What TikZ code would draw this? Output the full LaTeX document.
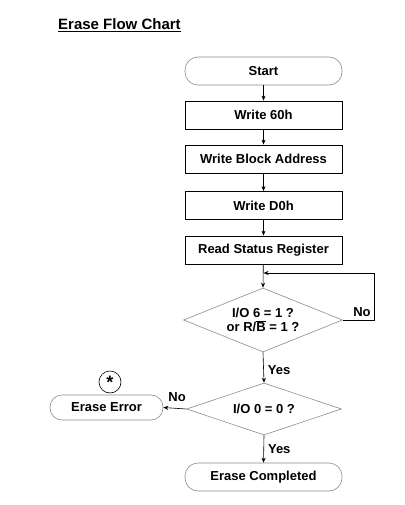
\documentclass[tikz,border=0pt]{standalone}
\usepackage{fontspec}
\setmainfont{Liberation Sans}
\usetikzlibrary{shapes.geometric,arrows.meta}
\begin{document}
\begin{tikzpicture}[x=1pt,y=-1pt,
  every node/.style={font=\bfseries\fontsize{13}{15}\selectfont},
  procbox/.style={draw=black,line width=0.8pt,rectangle,minimum width=157pt,minimum height=28pt,inner sep=0pt},
  termbox/.style={draw=black!45,line width=0.6pt,rectangle,rounded corners=13pt,minimum width=157pt,minimum height=28pt,inner sep=0pt},
  decide/.style={draw=black!45,line width=0.6pt,diamond,aspect=2.5,inner sep=0pt,align=center},
  conn/.style={draw=black,line width=0.6pt,-{Stealth[length=5pt,width=4pt]}},
  lbl/.style={inner sep=0pt}]
\useasboundingbox (0,0) rectangle (404,505);
\node[inner sep=0pt,anchor=west,font=\bfseries\fontsize{15}{17}\selectfont] (title) at (58,25) {\underline{Erase Flow Chart}};
\node[termbox] (start) at (263.5,71) {Start};
\node[procbox] (w60) at (263.5,115) {Write 60h};
\node[procbox] (wba) at (263.5,159) {Write Block Address};
\node[procbox] (wd0) at (263.5,205.5) {Write D0h};
\node[procbox] (rsr) at (263.5,250) {Read Status Register};
\node[decide,minimum width=159pt,minimum height=64pt] (d1) at (263,320) {I/O 6 = 1 ?\\[-1pt]or R/$\overline{\mbox{B}}$ = 1 ?};
\node[decide,minimum width=155pt,minimum height=52pt] (d2) at (264,409) {I/O 0 = 0 ?};
\node[termbox,minimum width=113pt,minimum height=25pt,rounded corners=12pt] (err) at (106.5,407.5) {Erase Error};
\node[draw=black,line width=0.6pt,circle,minimum size=22pt,inner sep=0pt,font=\bfseries\fontsize{18}{18}\selectfont] (star) at (110,382) {*};
\node[termbox] (done) at (263.5,477) {Erase Completed};
\coordinate (loopin) at (263.5,273);
\coordinate (loopc) at (374,320);
\draw[conn] (start) -- (w60);
\draw[conn] (w60) -- (wba);
\draw[conn] (wba) -- (wd0);
\draw[conn] (wd0) -- (rsr);
\draw[conn] (rsr) -- (d1.north);
\draw[conn] (d1.east) -- (loopc) |- (loopin);
\draw[conn] (d1.south) -- node[lbl,right=4pt,pos=0.6] {Yes} (d2.north);
\draw[conn] (d2.west) -- node[lbl,above=6pt,pos=0.4] {No} (err.east);
\draw[conn] (d2.south) -- node[lbl,right=4pt,pos=0.5] {Yes} (done.north);
\node[lbl] (nolbl) at (362,312) {No};
\end{tikzpicture}
\end{document}
